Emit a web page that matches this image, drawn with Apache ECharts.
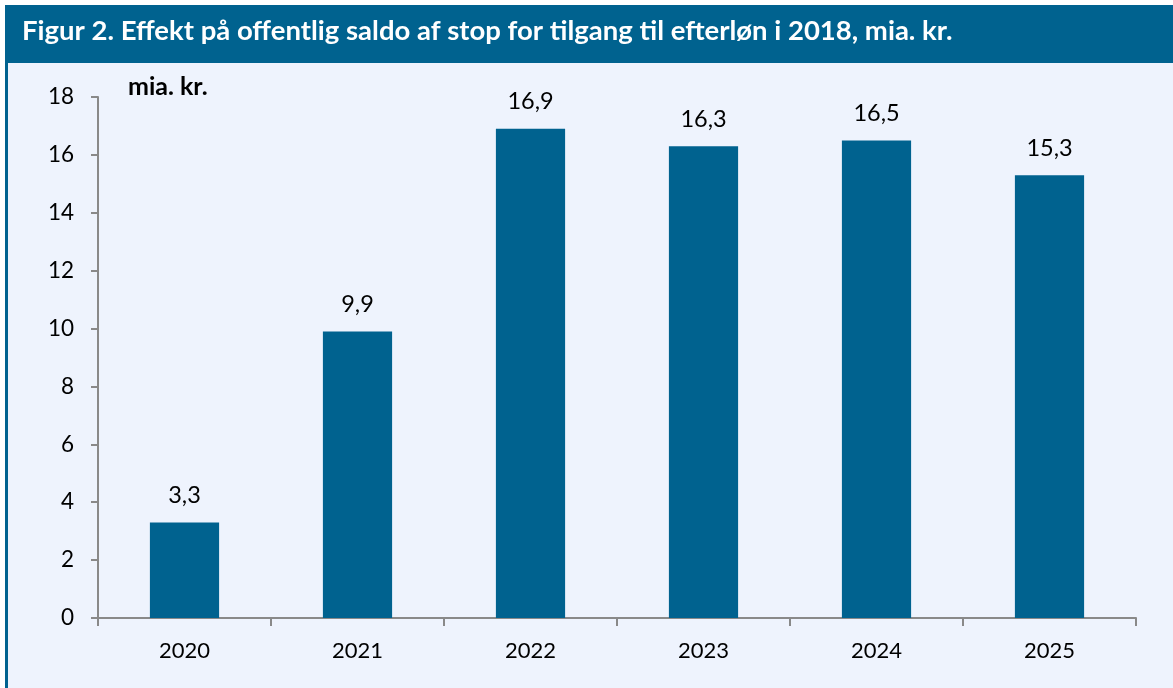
<!DOCTYPE html>
<html>
<head>
<meta charset="utf-8">
<script src="https://cdn.jsdelivr.net/npm/echarts@6/dist/echarts.min.js"></script>
<style>
  html, body { margin: 0; padding: 0; background: #fff; }
  #chart { width: 1173px; height: 688px; }
</style>
</head>
<body>
<div id="chart"></div>
<script>
const years = ['2020', '2021', '2022', '2023', '2024', '2025']
const saldo = [3.3, 9.9, 16.9, 16.3, 16.5, 15.3]
const titleText = 'Figur 2. Effekt på offentlig saldo af stop for tilgang til efterløn i 2018, mia. kr.'
const unitText = 'mia. kr.'

const blue = '#00628f'
const axisGray = '#898989'
const font = 'Lato, "Open Sans", sans-serif'

const chart = echarts.init(document.getElementById('chart'))
chart.setOption({
  backgroundColor: '#ffffff',
  animation: false,
  graphic: [
    // panel background
    { type: 'rect', left: 5, top: 5, shape: { width: 1168, height: 683 }, style: { fill: '#eef3fd' }, z: -10 },
    // left border
    { type: 'rect', left: 5, top: 5, shape: { width: 3, height: 683 }, style: { fill: blue }, z: -9 },
    // title bar
    { type: 'rect', left: 5, top: 5, shape: { width: 1168, height: 58 }, style: { fill: blue }, z: -9 },
    {
      type: 'text', left: 22, top: 17,
      style: { text: titleText, fill: '#ffffff', font: 'bold 27.5px ' + font }
    },
    {
      type: 'text', left: 128, top: 74,
      style: { text: unitText, fill: '#000000', font: 'bold 25px ' + font }
    }
  ],
  grid: { left: 98, right: 37, top: 97, bottom: 70 },
  xAxis: {
    type: 'category',
    data: years,
    axisLine: { lineStyle: { color: axisGray, width: 2 } },
    axisTick: { show: true, length: 8, lineStyle: { color: axisGray, width: 2 } },
    axisLabel: { color: '#000', fontSize: 22, fontFamily: font, margin: 22 }
  },
  yAxis: {
    type: 'value',
    min: 0,
    max: 18,
    interval: 2,
    splitLine: { show: false },
    axisLine: { show: true, lineStyle: { color: axisGray, width: 2 } },
    axisTick: { show: true, length: 7, lineStyle: { color: axisGray, width: 2 } },
    axisLabel: { color: '#000', fontSize: 22.5, fontFamily: font, margin: 24 }
  },
  series: [{
    type: 'bar',
    data: saldo,
    barWidth: '40%',
    itemStyle: { color: blue },
    label: {
      show: true,
      position: 'top',
      distance: 15,
      color: '#000',
      fontSize: 23.5,
      fontFamily: font,
      formatter: p => String(p.value).replace('.', ',')
    }
  }]
})
</script>
</body>
</html>
